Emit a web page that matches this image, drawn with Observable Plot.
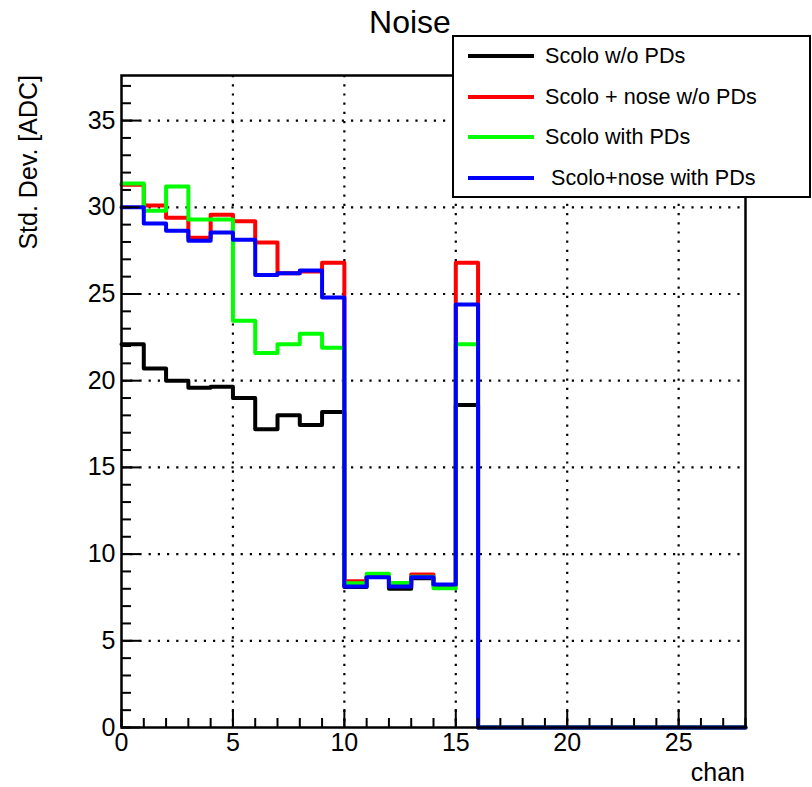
<!DOCTYPE html>
<html><head><meta charset="utf-8">
<script src="https://cdn.jsdelivr.net/npm/d3@7"></script>
<script src="https://cdn.jsdelivr.net/npm/@observablehq/plot@0.6"></script>
<style>
body{margin:0;background:#fff;}
#wrap{position:relative;width:812px;height:787px;font-family:"Liberation Sans",Arial,Helvetica,sans-serif;}
#legend{position:absolute;left:452px;top:35px;width:359px;height:163px;background:#fff;border:2px solid #000;box-sizing:border-box;}
.entry{position:absolute;left:0;height:0;}
.swatch{position:absolute;left:14px;width:66px;height:4px;margin-top:-2px;}
.lab{position:absolute;left:91px;top:-13px;font-size:21.6px;white-space:pre;color:#000;line-height:26px;}
</style></head>
<body><div id="wrap"></div>
<script>
// bins 0..27, values per bin (chan)
const nBins = 28;
const black = [22.1, 20.7, 20.0, 19.6, 19.65, 19.0, 17.2, 18.0, 17.45, 18.2, 8.1, 8.7, 8.0, 8.6, 8.2, 18.6, 0,0,0,0,0,0,0,0,0,0,0,0];
const red   = [31.3, 30.1, 29.4, 28.25, 29.57, 29.2, 27.97, 26.2, 26.3, 26.8, 8.43, 8.7, 8.2, 8.82, 8.2, 26.8, 0,0,0,0,0,0,0,0,0,0,0,0];
const green = [31.37, 29.8, 31.2, 29.3, 29.3, 23.45, 21.6, 22.1, 22.7, 21.9, 8.32, 8.86, 8.34, 8.7, 8.03, 22.1, 0,0,0,0,0,0,0,0,0,0,0,0];
const blue  = [30.0, 29.07, 28.65, 28.07, 28.55, 28.13, 26.1, 26.2, 26.35, 24.8, 8.13, 8.66, 8.13, 8.66, 8.24, 24.4, 0,0,0,0,0,0,0,0,0,0,0,0];
const seriesNames = ["Scolo w/o PDs", "Scolo + nose w/o PDs", "Scolo with PDs", " Scolo+nose with PDs"];
const seriesColors = ["#000000", "#ff0000", "#00ff00", "#0000ff"];
const seriesValues = [black, red, green, blue];
const xMajor = [0, 5, 10, 15, 20, 25];
const yMajor = [0, 5, 10, 15, 20, 25, 30, 35];
const xMinor = d3.range(0, 29);
const yMinor = d3.range(0, 38);

const series = seriesNames.map((name, k) => ({name, color: seriesColors[k], values: seriesValues[k]}));
function stepPoints(s) {
  const p = s.values.map((v, i) => ({x: i, y: v}));
  p.push({x: nBins, y: s.values[nBins - 1]});
  return p;
}

const gridStyle = {stroke: "#000", strokeOpacity: 1, strokeWidth: 2.2, strokeDasharray: "2.2,7"};
const chart = Plot.plot({
  width: 812, height: 787,
  marginLeft: 121, marginRight: 67, marginTop: 75, marginBottom: 60,
  style: {fontFamily: "Liberation Sans, Arial, Helvetica, sans-serif", fontSize: "24px", background: "#fff", color: "#000"},
  x: {domain: [0, 28], label: null},
  y: {domain: [0, 37.6], label: null},
  marks: [
    Plot.gridX(xMajor.filter(d => d > 0), gridStyle),
    Plot.gridY(yMajor.filter(d => d > 0), gridStyle),
    ...series.map(s => Plot.line(stepPoints(s), {x: "x", y: "y", curve: "step-after", stroke: s.color, strokeWidth: 4})),
    Plot.axisX(xMinor, {tickSize: -9, tickFormat: () => "", strokeWidth: 2, label: null}),
    Plot.axisX(xMajor, {tickSize: -18, tickFormat: () => "", strokeWidth: 2, label: null}),
    Plot.axisX(xMajor, {tickSize: 0, tickPadding: 6, fontSize: 25, label: null}),
    Plot.axisY(yMinor, {tickSize: -10, tickFormat: () => "", strokeWidth: 2, label: null}),
    Plot.axisY(yMajor, {tickSize: 0, tickPadding: 0, fontSize: 25, label: null, dx: -6}),
    Plot.axisY(yMajor, {tickSize: -19, tickFormat: () => "", strokeWidth: 2, label: null}),
    Plot.frame({stroke: "#000", strokeWidth: 2.5})
  ]
});
const wrap = document.getElementById("wrap");
wrap.appendChild(chart);
const svg = d3.select(chart);
svg.append("text").attr("x", 410).attr("y", 33).attr("text-anchor", "middle")
  .attr("font-size", 32).attr("fill", "#000").text("Noise");
svg.append("text").attr("x", 745).attr("y", 781).attr("text-anchor", "end")
  .attr("font-size", 25).attr("fill", "#000").text("chan");
svg.append("text").attr("transform", "translate(37,75) rotate(-90)").attr("text-anchor", "end")
  .attr("font-size", 25).attr("fill", "#000").text("Std. Dev. [ADC]");

const legend = document.createElement("div");
legend.id = "legend";
series.forEach((s, k) => {
  const e = document.createElement("div");
  e.className = "entry";
  e.style.top = (19 + k * 40.7) + "px";
  const sw = document.createElement("div");
  sw.className = "swatch"; sw.style.background = s.color;
  const lb = document.createElement("div");
  lb.className = "lab"; lb.textContent = s.name;
  e.appendChild(sw); e.appendChild(lb);
  legend.appendChild(e);
});
wrap.appendChild(legend);
</script>
</body></html>
